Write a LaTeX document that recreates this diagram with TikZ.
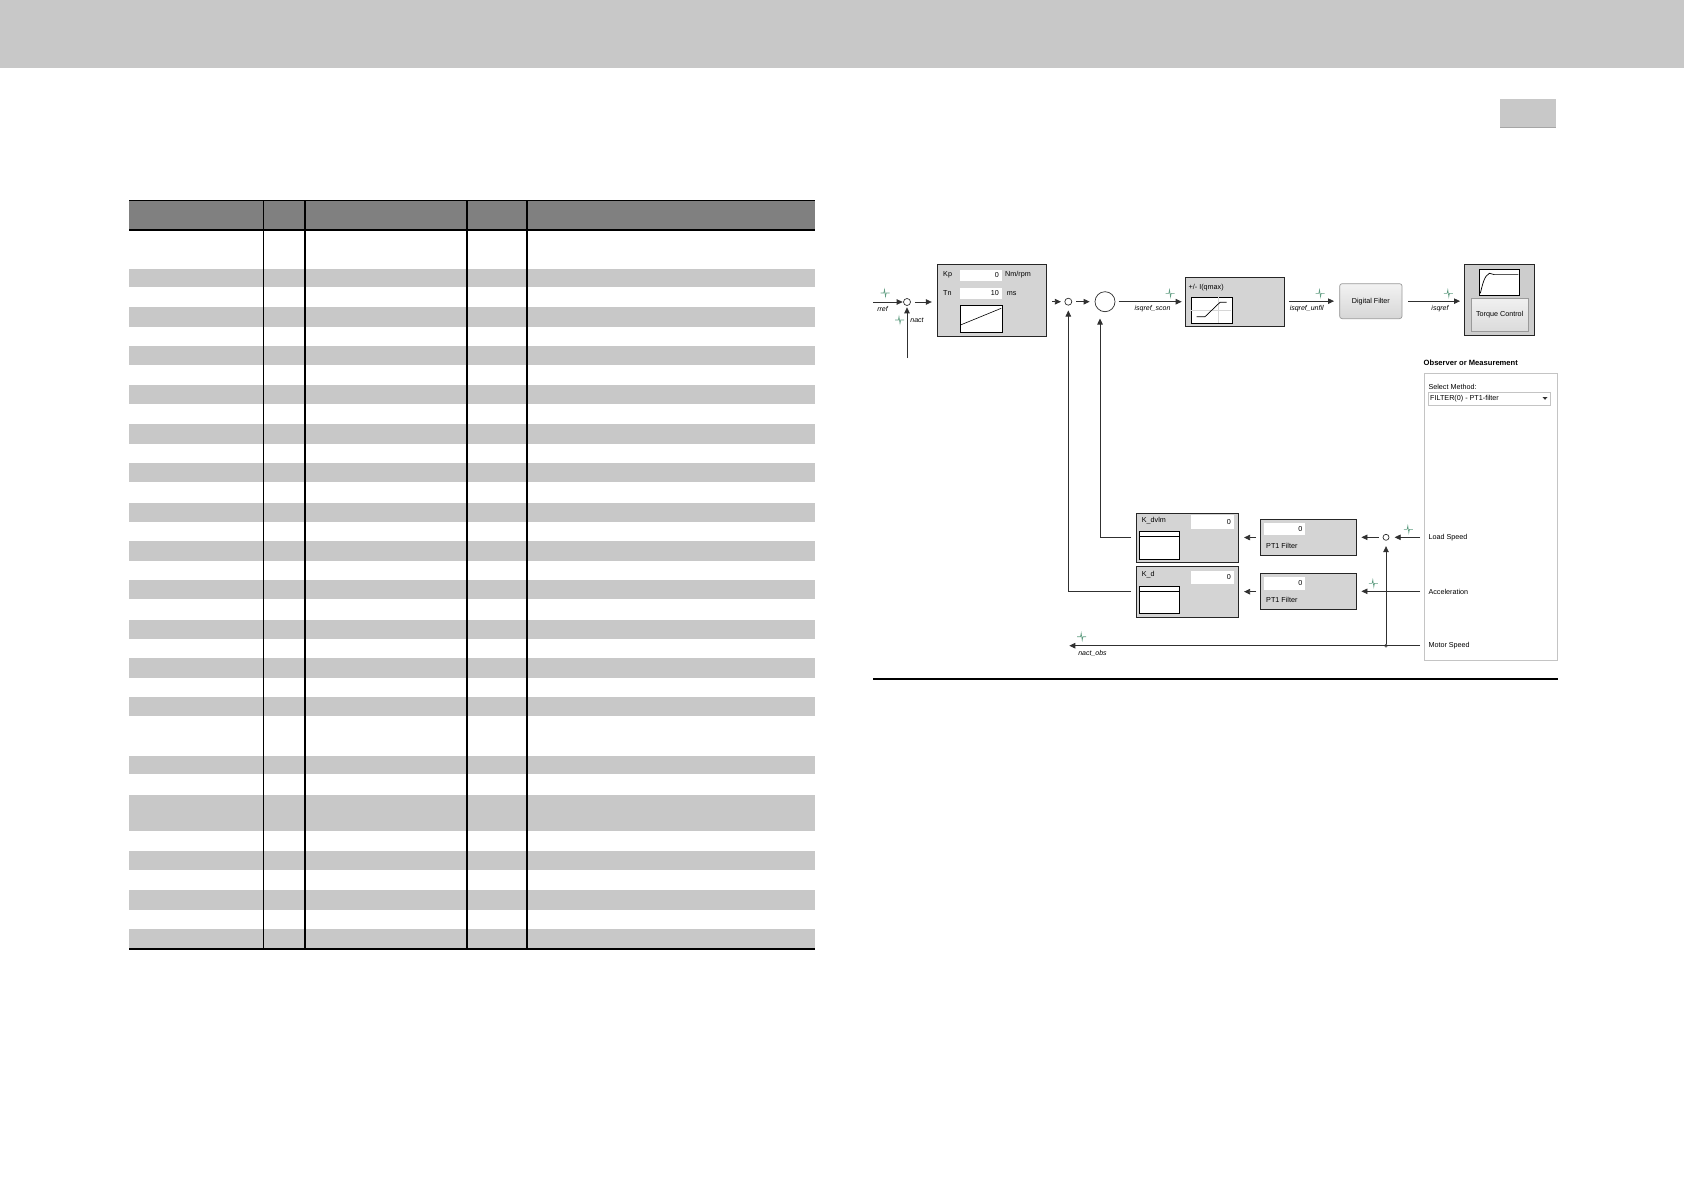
\documentclass[tikz,border=0pt]{standalone}
\usepackage{fontspec}
\setmainfont{Liberation Sans}
\usetikzlibrary{arrows.meta}
\definecolor{bargray}{HTML}{C8C8C8}
\definecolor{headgray}{HTML}{808080}
\definecolor{stripegray}{HTML}{C8C8C8}
\definecolor{boxgray}{HTML}{D4D4D4}
\definecolor{tcgray}{HTML}{CDCDCD}
\definecolor{probecol}{HTML}{5E9C80}
\definecolor{panelborder}{HTML}{C4C4C4}
\definecolor{gridcol}{HTML}{D6D6D6}
\definecolor{btnborder}{HTML}{9A9A9A}
\definecolor{linecol}{HTML}{303030}
\definecolor{boxborder}{HTML}{262626}
\tikzset{
  lbl/.style={font=\fontsize{7.2}{8.5}\selectfont, inner sep=0, anchor=west},
  ilbl/.style={font=\fontsize{7}{8}\selectfont\itshape, inner sep=0},
  blk/.style={draw=boxborder, line width=0.75pt, fill=boxgray, inner sep=0, anchor=north west},
  fld/.style={fill=white, inner sep=0, anchor=north west},
  graphbox/.style={draw=black, line width=0.7pt, fill=white, inner sep=0, anchor=north west},
  conn/.style={line width=0.75pt, draw=linecol},
  arr/.style={conn, -{Triangle[length=6pt,width=5.5pt]}},
  sumc/.style={circle, draw=linecol, line width=0.7pt, inner sep=0, minimum size=7pt, fill=white},
  probe/.pic={\draw[probecol, line width=0.6pt] (-4.5,0) -- (-1.2,0) -- (-0.5,-3.5) -- (0.5,3.5) -- (1.2,0) -- (4.5,0);}
}
\begin{document}
\begin{tikzpicture}[x=1pt,y=-1pt]
\useasboundingbox (0,0) rectangle (1684,1191);
\fill[white] (0,0) rectangle (1684,1191);
% page header
\fill[bargray] (0,0) rectangle (1684,68);
\fill[bargray] (1500,99) rectangle (1556,128);
\draw[black!35, line width=0.8pt] (1500,127.6) -- (1556,127.6);
% table
\fill[headgray] (129,200) rectangle (815,230);
\draw[black, line width=0.9pt] (129,200.4) -- (815,200.4);
\foreach \a/\b in {268.5/287, 307/326.5, 346/365, 384.5/404, 424/443.5, 463/482, 502.5/522, 541/560.5, 580/599, 619.5/639, 658/677.5, 697/716, 756/774, 795/831, 850.5/870, 890/909.5, 929/948}
  \fill[stripegray] (129,\a) rectangle (815,\b);
\foreach \x in {263.5,305,467,527}
  \draw[black, line width=1.3pt] (\x,200) -- (\x,948);
\draw[black, line width=1.8pt] (129,230) -- (815,230);
\draw[black, line width=2.5pt] (129,949) -- (815,949);
% diagram rule
\draw[black, line width=2pt] (873,679) -- (1558,679);

% ===== upper chain =====
\node[sumc] (sum1) at (907,302) {};
\coordinate (rrefin) at (873,302);
\coordinate (nactin) at (907,358);
\draw[arr, shorten >=0.5pt] (rrefin) -- (sum1);
\draw[arr, shorten >=1.5pt] (nactin) -- (sum1);
\pic at (885,293) {probe};
\node[ilbl] (lrref) at (882.5,308.5) {rref};
\pic at (899.5,320) {probe};
\node[ilbl] (lnact) at (917,320.5) {nact};

% Kp box
\node[blk, minimum width=108.7pt, minimum height=71.4pt] (kp) at (937.3,264.3) {};
\node[lbl] (kplbl) at (943,275) {Kp};
\node[fld, minimum width=41.7pt, minimum height=11.4pt] (kpf) at (960,269.3) {};
\node[lbl, anchor=east] (kpv) at (999,275) {0};
\node[lbl] (kpu) at (1005,275) {Nm/rpm};
\node[lbl] (tnlbl) at (943,293.3) {Tn};
\node[fld, minimum width=41.7pt, minimum height=11pt] (tnf) at (960,287.7) {};
\node[lbl, anchor=east] (tnv) at (999,293.3) {10};
\node[lbl] (tnu) at (1006.7,293.5) {ms};
\node[graphbox, minimum width=41.7pt, minimum height=27.3pt] (kpg) at (960,305) {};
\draw[black, line width=0.6pt] (960.5,325) -- (1001.2,308.3);
\draw[arr, shorten <=4pt, shorten >=5.5pt] (sum1.east) -- (sum1.east -| kp.west);

% sum2 and big circle
\node[sumc] (sum2) at (1068.3,301.7) {};
\node[circle, draw=linecol, line width=0.7pt, inner sep=0, minimum size=20pt, fill=white] (bigc) at (1105,301.7) {};
\draw[arr, shorten <=5.7pt, shorten >=3.5pt] (kp.east |- sum2.west) -- (sum2.west);
\draw[arr, shorten <=4pt, shorten >=5pt] (sum2.east) -- (bigc.west);

% saturation box
\node[blk, minimum width=99pt, minimum height=49pt] (sat) at (1185,277) {};
\node[lbl] (satlbl) at (1188.5,287.3) {+/- I(qmax)};
\node[graphbox, minimum width=41pt, minimum height=26.6pt] (satg) at (1190.7,296.7) {};
\draw[gridcol, line width=0.6pt] (1218,297.2) -- (1218,322.8) (1191.2,310) -- (1231.2,310);
\draw[black, line width=0.7pt] (1196.7,316.7) -- (1205,316.7) -- (1220,302.3) -- (1226.7,302.3);
\draw[arr, shorten <=3.3pt, shorten >=3.3pt] (bigc.east) -- (bigc.east -| sat.west);
\pic at (1170,293.3) {probe};
\node[ilbl] (lscon) at (1152.5,309) {isqref\_scon};

% digital filter
\node[draw=btnborder, line width=0.7pt, rounded corners=2.5pt, top color=white!95!black, bottom color=black!16, inner sep=0, minimum width=62.4pt, minimum height=35pt, anchor=north west, font=\fontsize{7.2}{8.5}\selectfont] (df) at (1339.3,283.3) {Digital Filter};
\draw[arr, shorten <=4.3pt, shorten >=5.3pt] (sat.east |- df.west) -- (df.west);
\pic at (1320,293.3) {probe};
\node[ilbl] (lunfil) at (1306.7,309) {isqref\_unfil};

% torque control
\node[blk, fill=tcgray, minimum width=69.7pt, minimum height=71.3pt] (tc) at (1464.3,264) {};
\node[graphbox, minimum width=40.3pt, minimum height=26pt] (tcg) at (1479,268.8) {};
\draw[black, line width=0.7pt] (1480.3,293.3) .. controls (1482.5,285) and (1484,276) .. (1489.3,273.3) .. controls (1491,273) and (1492,274.6) .. (1494,274.6) -- (1518.3,274.6);
\node[draw=btnborder, line width=0.6pt, top color=black!6, bottom color=black!14, inner sep=0, minimum width=56.7pt, minimum height=32.7pt, anchor=north west, font=\fontsize{7.2}{8.5}\selectfont] (tcb) at (1471,298.3) {Torque Control};
\draw[arr, shorten <=5.6pt, shorten >=4.3pt] (df.east) -- (df.east -| tc.west);
\pic at (1448.3,293.3) {probe};
\node[ilbl] (lisqref) at (1440,309) {isqref};

% observer panel
\node[lbl, font=\fontsize{7.6}{9}\selectfont\bfseries] (obst) at (1423.5,362.7) {Observer or Measurement};
\node[draw=panelborder, line width=0.7pt, fill=white, inner sep=0, minimum width=133pt, minimum height=287pt, anchor=north west] (panel) at (1424,373) {};
\node[lbl] (selm) at (1428.3,386.7) {Select Method:};
\node[draw=panelborder, line width=0.6pt, fill=white, inner sep=0, minimum width=122.3pt, minimum height=13.3pt, anchor=north west] (dd) at (1427.7,391.7) {};
\node[lbl] (ddtxt) at (1430,398.4) {FILTER(0) - PT1-filter};
\fill[black!80] (1542.5,397) -- (1547.5,397) -- (1545,399.8) -- cycle;
\node[lbl] (lload) at (1428.3,537.3) {Load Speed};
\node[lbl] (lacc) at (1428.3,591.7) {Acceleration};
\node[lbl] (lmot) at (1428.3,645.7) {Motor Speed};

% ===== lower section =====
\node[blk, minimum width=102pt, minimum height=49pt] (kdvlm) at (1135.7,512.7) {};
\node[lbl] (kdvlml) at (1141.7,520.7) {K\_dvlm};
\node[fld, minimum width=42.3pt, minimum height=13.3pt] (kdvlmf) at (1191,515) {};
\node[lbl, anchor=east] (kdvlmv) at (1231,521.7) {0};
\node[graphbox, minimum width=40.3pt, minimum height=28pt] (kdvlmg) at (1139,531) {};
\draw[black, line width=0.6pt] (1139,536) -- (1179.3,536);

\node[blk, minimum width=102pt, minimum height=50.7pt] (kd) at (1135.7,566) {};
\node[lbl] (kdl) at (1141.7,575) {K\_d};
\node[fld, minimum width=42.3pt, minimum height=12.3pt] (kdf) at (1191,571) {};
\node[lbl, anchor=east] (kdv) at (1231,577.2) {0};
\node[graphbox, minimum width=40.3pt, minimum height=27.3pt] (kdg) at (1139,586) {};
\draw[black, line width=0.6pt] (1139,591) -- (1179.3,591);

\node[blk, minimum width=96pt, minimum height=35.7pt] (pt1a) at (1260,519.3) {};
\node[fld, minimum width=41pt, minimum height=12.3pt] (pt1af) at (1264,522.7) {};
\node[lbl, anchor=east] (pt1av) at (1302.5,529) {0};
\node[lbl] (pt1al) at (1266,546) {PT1 Filter};

\node[blk, minimum width=96pt, minimum height=36pt] (pt1b) at (1260,573.3) {};
\node[fld, minimum width=41pt, minimum height=12.6pt] (pt1bf) at (1264,576.7) {};
\node[lbl, anchor=east] (pt1bv) at (1302.5,583) {0};
\node[lbl] (pt1bl) at (1266,600) {PT1 Filter};

\node[sumc, minimum size=6pt] (sum3) at (1386,537.3) {};
\coordinate (lsin) at (1420,537.3);
\coordinate (accin) at (1420,591.3);
\coordinate (msin) at (1420,645.7);
\coordinate (nobs) at (1069.3,645.7);
\node[circle, draw=linecol, line width=0.5pt, fill=white, inner sep=0, minimum size=3pt] (jn) at (1386,645.7) {};

\draw[arr, shorten >=5.3pt] (lsin) -- (sum3);
\draw[arr, shorten <=4pt, shorten >=4.7pt] (sum3) -- (sum3 -| pt1a.east);
\draw[arr, shorten <=4pt, shorten >=5.6pt] (pt1a.west) -- (pt1a.west -| kdvlm.east);
\draw[arr, shorten >=4.7pt] (accin) -- (accin -| pt1b.east);
\draw[arr, shorten <=4pt, shorten >=5.6pt] (pt1b.west) -- (pt1b.west -| kd.east);
\draw[arr] (msin) -- (jn.east) -- (nobs);
\draw[arr, shorten >=5.5pt] (jn) -- (sum3);
\pic at (1408.3,529.3) {probe};
\pic at (1373.3,583.3) {probe};
\pic at (1081.7,636.7) {probe};
\node[ilbl] (lnobs) at (1092.5,653.3) {nact\_obs};

% feedback lines
\coordinate (bcin) at (1100,318.5);
\coordinate (s2in) at (1068.3,310.5);
\draw[arr] ([xshift=-4.7pt]kdvlm.west) -| (bcin);
\draw[arr] ([xshift=-4.7pt]kd.west) -| (s2in);
\end{tikzpicture}
\end{document}
